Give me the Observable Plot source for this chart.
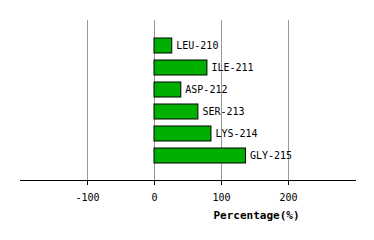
<!DOCTYPE html>
<html><head><meta charset="utf-8">
<script src="https://cdn.jsdelivr.net/npm/d3@7"></script>
<script src="https://cdn.jsdelivr.net/npm/@observablehq/plot@0.6"></script>
<style>body{margin:0;background:#fff}</style>
</head><body><div id="chart"></div>
<script>
const residues = ["LEU-210","ILE-211","ASP-212","SER-213","LYS-214","GLY-215"];
const percentages = [26.5, 79, 40, 65.5, 85, 136.5];
const xTicks = [-100, 0, 100, 200];
const xLabel = "Percentage(%)";

const data = residues.map((r, i) => ({residue: r, value: percentages[i]}));
const font = "DejaVu Sans Mono, monospace";

const chart = Plot.plot({
  width: 374, height: 240,
  marginTop: 20, marginBottom: 60, marginLeft: 20, marginRight: 19,
  style: {fontFamily: font, fontSize: "10px", background: "#fff", color: "#000"},
  x: {domain: [-200, 300]},
  y: {domain: residues, range: [28.9, 172.6], padding: 0.33, axis: null},
  marks: [
    Plot.ruleX(xTicks, {stroke: "#999999", strokeWidth: 1}),
    Plot.frame({anchor: "bottom", stroke: "#000", strokeWidth: 1}),
    Plot.axisX(xTicks, {tickSize: 5, tickPadding: 8, stroke: "#000", label: null, fontSize: 10, tickFormat: d => String(d)}),
    Plot.barX(data, {x: "value", y: "residue", fill: "#00b000", stroke: "#000", strokeWidth: 1}),
    Plot.text(data, {x: "value", y: "residue", text: "residue", textAnchor: "start", dx: 4, fontSize: 10, fill: "#000"}),
    Plot.text([xLabel], {frameAnchor: "bottom-right", dx: -56, dy: 38, textAnchor: "end", fontWeight: "bold", fontSize: 11, fill: "#000"})
  ]
});
document.getElementById("chart").append(chart);
</script>
</body></html>
